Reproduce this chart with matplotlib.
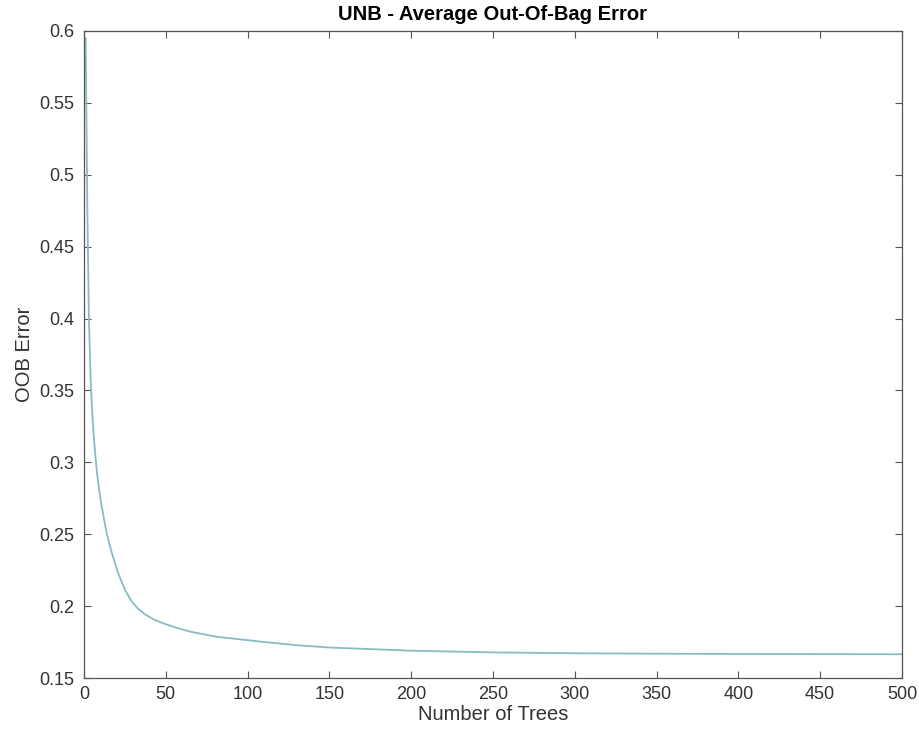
import matplotlib
matplotlib.use("Agg")
import matplotlib.pyplot as plt
import numpy as np

# OOB error
num_trees = [1, 2, 3, 4, 5, 6, 7, 8, 10, 12, 14, 17, 21, 25, 29, 33, 37, 43, 49, 57,
             65, 81, 108, 130, 150, 200, 250, 300, 350, 400, 450, 500]
oob_error = [0.595, 0.48, 0.40, 0.36, 0.335, 0.318, 0.304, 0.292, 0.275, 0.262, 0.25,
             0.237, 0.2225, 0.2115, 0.2035, 0.1982, 0.1945, 0.1905, 0.1878, 0.1848,
             0.1822, 0.1787, 0.1753, 0.1728, 0.1712, 0.169, 0.1678, 0.1672, 0.1669,
             0.1667, 0.1666, 0.1665]

x_ticks = list(range(0, 501, 50))
y_ticks = [0.15, 0.2, 0.25, 0.3, 0.35, 0.4, 0.45, 0.5, 0.55, 0.6]
y_tick_labels = ["0.15", "0.2", "0.25", "0.3", "0.35", "0.4", "0.45", "0.5", "0.55", "0.6"]

plt.rcParams['font.family'] = ['Liberation Sans', 'DejaVu Sans']

fig = plt.figure(figsize=(9.2, 7.36), dpi=100)
ax = fig.add_axes([0.0913, 0.0788, 0.8891, 0.8791])

ax.plot(num_trees, oob_error, color='#86bcc4', linewidth=1.3)

ax.set_xlim(0, 500)
ax.set_ylim(0.15, 0.6)
ax.set_xticks(x_ticks)
ax.set_yticks(y_ticks)
ax.set_yticklabels(y_tick_labels)

ax.tick_params(direction='in', top=True, right=True, length=5, width=0.8,
               colors='#555555', labelsize=13, labelcolor='#333333')
ax.tick_params(axis='x', pad=6)
ax.tick_params(axis='y', pad=7)
for spine in ax.spines.values():
    spine.set_color('#555555')
    spine.set_linewidth(0.9)

ax.set_title('UNB - Average Out-Of-Bag Error', fontsize=14.5, fontweight='bold', pad=8)
ax.set_xlabel('Number of Trees', fontsize=14.5, color='#333333', labelpad=1)
ax.set_ylabel('OOB Error', fontsize=14.5, color='#333333', labelpad=4)

plt.savefig('out.png', dpi=100)
